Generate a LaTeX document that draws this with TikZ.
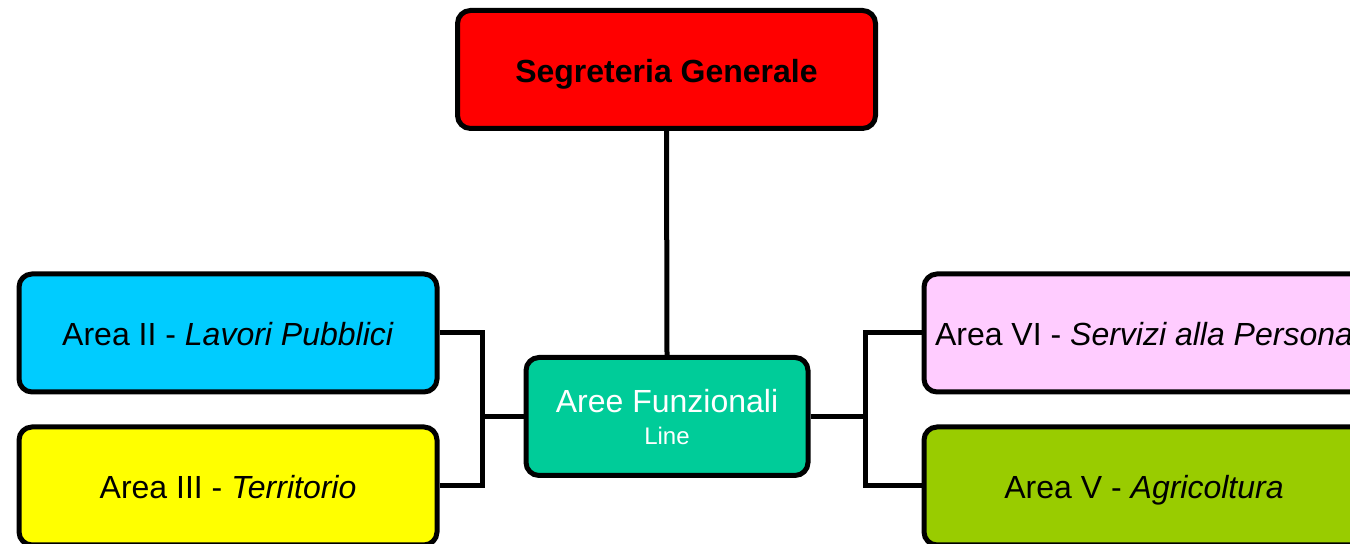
\documentclass[tikz,border=0pt]{standalone}
\usepackage{fontspec}
\setmainfont{Liberation Sans}
\usetikzlibrary{positioning}

\definecolor{segred}{HTML}{FF0000}
\definecolor{areegreen}{HTML}{00CC99}
\definecolor{lavcyan}{HTML}{00CCFF}
\definecolor{terryellow}{HTML}{FFFF00}
\definecolor{servpink}{HTML}{FFCCFF}
\definecolor{agrigreen}{HTML}{99CC00}

\begin{document}
\begin{tikzpicture}[x=0.5pt, y=-0.5pt,
    box/.style={draw=black, line width=2.5pt, rounded corners=6.5pt,
      minimum width=209pt, minimum height=59pt, inner sep=2pt,
      font=\fontsize{16}{16}\selectfont},
    onerow/.style={box, text height=13pt, text depth=0pt},
    link/.style={draw=black, line width=2.5pt}]
  \useasboundingbox (0,0) rectangle (1350,544);
  \clip (0,0) rectangle (1350,544);

  \node[onerow, fill=segred, font=\bfseries\fontsize{16}{16}\selectfont]
  (segreteria) at (666.5,69.5) {Segreteria Generale};

  \node[box, fill=areegreen, text=white, minimum width=141pt, align=center,
  text depth=0pt] (aree) at (667,416.5)
  {Aree Funzionali\\{\fontsize{12}{16}\selectfont Line}};

  \node[onerow, fill=lavcyan] (lavori) at (228,333)
  {Area II - \textit{Lavori Pubblici}};
  \node[onerow, fill=terryellow, below=15pt of lavori] (territorio)
  {Area III - \textit{Territorio}};

  \node[onerow, fill=servpink, minimum width=220pt, right=241pt of lavori]
  (servizi) {Area VI - \textit{Servizi alla Persona}};
  \node[onerow, fill=agrigreen, minimum width=220pt, below=15pt of servizi]
  (agricoltura) {Area V - \textit{Agricoltura}};

  \draw[link] (segreteria.south) -- (aree.north);
  \draw[link] (lavori.east) -- ++(21.5pt,0) |- (aree.west);
  \draw[link] (territorio.east) -- ++(21.5pt,0) |- (aree.west);
  \draw[link] (aree.east) -- ++(27.5pt,0) |- (servizi.west);
  \draw[link] (aree.east) -- ++(27.5pt,0) |- (agricoltura.west);
\end{tikzpicture}
\end{document}
